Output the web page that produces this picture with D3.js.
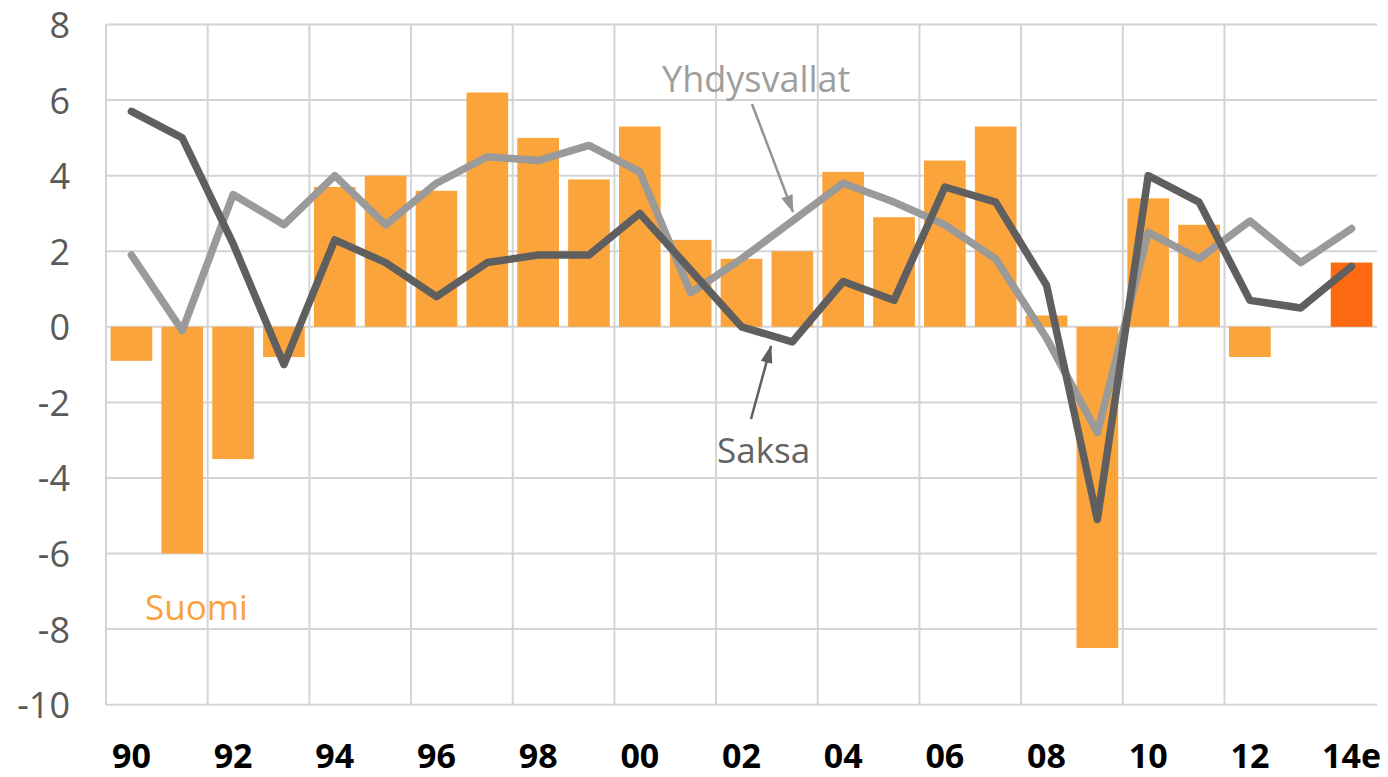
<!DOCTYPE html>
<html>
<head>
<meta charset="utf-8">
<script src="https://cdn.jsdelivr.net/npm/d3@7"></script>
<style>
  html, body { margin: 0; padding: 0; background: #ffffff; }
  svg { display: block; }
  text { font-family: "Open Sans", "Noto Sans", sans-serif; }
</style>
</head>
<body>
<svg id="chart" width="1388" height="777"></svg>
<script>
// ---- data ----
const categories = ["90","91","92","93","94","95","96","97","98","99","00","01","02","03","04","05","06","07","08","09","10","11","12","13","14e"];
const tickLabels = ["90","92","94","96","98","00","02","04","06","08","10","12","14e"];
const yTicks = [-10,-8,-6,-4,-2,0,2,4,6,8];
const suomi = [-0.9,-6.0,-3.5,-0.8,3.7,4.0,3.6,6.2,5.0,3.9,5.3,2.3,1.8,2.0,4.1,2.9,4.4,5.3,0.3,-8.5,3.4,2.7,-0.8,0.0,1.7];
const saksa = [5.7,5.0,2.2,-1.0,2.3,1.7,0.8,1.7,1.9,1.9,3.0,1.5,0.0,-0.4,1.2,0.7,3.7,3.3,1.1,-5.1,4.0,3.3,0.7,0.5,1.6];
const yhdysvallat = [1.9,-0.1,3.5,2.7,4.0,2.7,3.8,4.5,4.4,4.8,4.1,0.9,1.8,2.8,3.8,3.3,2.7,1.8,-0.3,-2.8,2.5,1.8,2.8,1.7,2.6];
const estimateCategory = "14e";

(function () {
// ---- layout ----
const svg = d3.select("#chart");
const pLeft = 106, pRight = 1377, pTop = 24.5, pBottom = 704.7;

const x = d3.scaleBand().domain(categories).range([pLeft, pRight]).paddingInner(0.18).paddingOuter(0.09);
const y = d3.scaleLinear().domain([-10, 8]).range([pBottom, pTop]);

const gridColor = "#d4d4d4";

// horizontal gridlines
svg.append("g").selectAll("line").data(yTicks).join("line")
  .attr("x1", pLeft).attr("x2", pRight)
  .attr("y1", d => y(d)).attr("y2", d => y(d))
  .attr("stroke", gridColor).attr("stroke-width", 2);

// vertical gridlines: left border + every 2 categories boundary
const step = x.step();
const vIdx = d3.range(0, categories.length, 2).filter(i => i < categories.length - 1);
svg.append("g").selectAll("line").data(vIdx).join("line")
  .attr("x1", i => pLeft + i * step).attr("x2", i => pLeft + i * step)
  .attr("y1", y(8)).attr("y2", y(-10))
  .attr("stroke", gridColor).attr("stroke-width", 2);

// bars
svg.append("g").selectAll("rect").data(categories).join("rect")
  .attr("x", d => x(d))
  .attr("width", x.bandwidth())
  .attr("y", (d, i) => y(Math.max(0, suomi[i])))
  .attr("height", (d, i) => Math.abs(y(suomi[i]) - y(0)))
  .attr("fill", d => d === estimateCategory ? "#fd6a12" : "#faa43b");

// lines
const line = d3.line()
  .x((d, i) => x(categories[i]) + x.bandwidth() / 2)
  .y(d => y(d));

svg.append("path").datum(yhdysvallat)
  .attr("d", line).attr("fill", "none")
  .attr("stroke", "#9a9a9a").attr("stroke-width", 7.5)
  .attr("stroke-linejoin", "round").attr("stroke-linecap", "round");

svg.append("path").datum(saksa)
  .attr("d", line).attr("fill", "none")
  .attr("stroke", "#5f5f5f").attr("stroke-width", 7.5)
  .attr("stroke-linejoin", "round").attr("stroke-linecap", "round");

// y axis labels (plain hyphen minus as in the original)
const yAxis = d3.axisLeft(y).tickValues(yTicks).tickSize(0).tickPadding(0).tickFormat(d => String(d));
const gy = svg.append("g").attr("transform", "translate(70,0)").call(yAxis);
gy.select(".domain").remove();
gy.selectAll("text")
  .attr("font-family", "'Open Sans', sans-serif")
  .attr("font-size", 36).attr("fill", "#595959")
  .attr("dy", "0.36em");

// x axis labels
const xAxis = d3.axisBottom(x).tickValues(tickLabels).tickSize(0).tickPadding(0);
const gx = svg.append("g").attr("transform", "translate(0,768)").call(xAxis);
gx.select(".domain").remove();
gx.selectAll("text")
  .attr("font-family", "'Open Sans', sans-serif")
  .attr("font-size", 34).attr("font-weight", "bold").attr("fill", "#000000")
  .attr("y", 0).attr("dy", 0);

// arrow markers
const defs = svg.append("defs");
function marker(id, color) {
  defs.append("marker").attr("id", id)
    .attr("viewBox", "0 0 18 12").attr("refX", 17).attr("refY", 6)
    .attr("markerWidth", 18).attr("markerHeight", 12).attr("markerUnits", "userSpaceOnUse")
    .attr("orient", "auto")
    .append("path").attr("d", "M0,0 L18,6 L0,12 z").attr("fill", color);
}
marker("arrGray", "#949494");
marker("arrDark", "#5f5f5f");

// annotations
svg.append("text").attr("x", 662).attr("y", 92)
  .attr("font-size", 36).attr("fill", "#9e9e9e").text("Yhdysvallat");
svg.append("line").attr("x1", 752).attr("y1", 104).attr("x2", 793).attr("y2", 212)
  .attr("stroke", "#949494").attr("stroke-width", 2.5).attr("marker-end", "url(#arrGray)");

svg.append("text").attr("x", 717).attr("y", 463)
  .attr("font-size", 35).attr("fill", "#636363").text("Saksa");
svg.append("line").attr("x1", 751).attr("y1", 419).attr("x2", 771).attr("y2", 346)
  .attr("stroke", "#5f5f5f").attr("stroke-width", 2.5).attr("marker-end", "url(#arrDark)");

svg.append("text").attr("x", 145).attr("y", 620)
  .attr("font-size", 35).attr("fill", "#f9a33c").text("Suomi");
})();
</script>
</body>
</html>
